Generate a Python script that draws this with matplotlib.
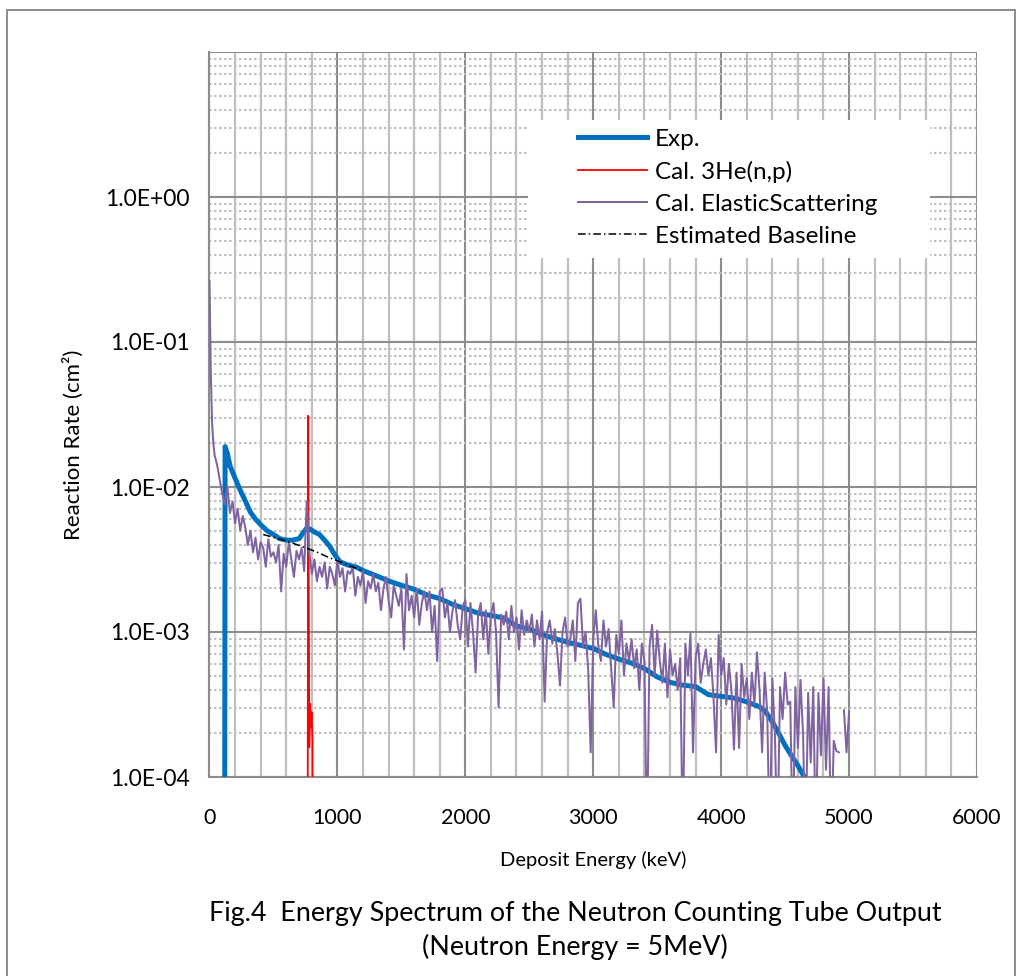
import numpy as np
import matplotlib
matplotlib.use('Agg')
import matplotlib.pyplot as plt
from matplotlib.patches import Rectangle
from matplotlib.ticker import FixedLocator, FuncFormatter, MultipleLocator

plt.rcParams['font.family'] = ['Lato', 'DejaVu Sans']

# --- data ---
# Exp. (measured)
exp_x = [118, 122, 130, 140, 160, 200, 240, 280, 320, 360, 400, 450, 500, 550,
         600, 650, 700, 730, 760, 790, 820, 860, 900, 940, 980, 1020, 1080,
         1150, 1200, 1300, 1400, 1500, 1600, 1700, 1800, 1900, 2000, 2100,
         2200, 2300, 2400, 2500, 2600, 2700, 2800, 2900, 3000, 3100, 3200,
         3300, 3400, 3500, 3600, 3700, 3800, 3900, 4000, 4100, 4200, 4300,
         4350, 4400, 4450, 4500, 4550, 4600, 4650, 4700, 4750]
exp_y = [1e-5, 1.9e-2, 1.8e-2, 1.7e-2, 1.4e-2, 1.15e-2, 9.5e-3, 8.0e-3, 6.7e-3,
         6.0e-3, 5.5e-3, 5.0e-3, 4.7e-3, 4.4e-3, 4.3e-3, 4.3e-3, 4.4e-3,
         4.8e-3, 5.2e-3, 5.1e-3, 4.9e-3, 4.7e-3, 4.3e-3, 3.9e-3, 3.4e-3,
         3.05e-3, 2.9e-3, 2.8e-3, 2.65e-3, 2.45e-3, 2.25e-3, 2.1e-3, 1.97e-3,
         1.8e-3, 1.7e-3, 1.55e-3, 1.45e-3, 1.35e-3, 1.3e-3, 1.25e-3, 1.1e-3,
         1.05e-3, 9.6e-4, 9.0e-4, 8.5e-4, 8.1e-4, 7.7e-4, 7.0e-4, 6.5e-4,
         6.1e-4, 5.6e-4, 4.9e-4, 4.5e-4, 4.3e-4, 4.2e-4, 3.7e-4, 3.6e-4,
         3.5e-4, 3.3e-4, 3.05e-4, 2.8e-4, 2.4e-4, 2.0e-4, 1.65e-4, 1.4e-4,
         1.2e-4, 1.0e-4, 8.5e-5, 7e-5]

# Cal. 3He(n,p)
he_x = [755, 765, 772, 780, 786, 792, 798, 805, 812]
he_y = [1e-6, 1e-6, 3.1e-2, 1.6e-4, 3.2e-4, 2.2e-4, 2.8e-4, 1.8e-4, 1e-6]

# Cal. ElasticScattering, log10 of the rate
el_x = [0, 10, 20, 30, 40, 60, 80] + list(range(100, 5001, 20))
el_log = [
    -0.58, -1.2, -1.55, -1.7, -1.78, -1.85, -1.95,
    -2.05, -2.12, -2.0, -2.18, -2.1, -2.25, -2.15, -2.3, -2.2, -2.28,      # 100-280
    -2.4, -2.3, -2.45, -2.35, -2.5, -2.38, -2.42, -2.55, -2.36, -2.48,     # 300-480
    -2.45, -2.52, -2.4, -2.72, -2.46, -2.55, -2.38, -2.5, -2.62, -2.44,    # 500-680
    -2.5, -2.42, -2.58, -2.1, -2.45, -2.6, -2.5, -2.65, -2.55, -2.62,      # 700-880
    -2.52, -2.7, -2.55, -2.6, -2.68, -2.5, -2.62, -2.56, -2.72, -2.58,     # 900-1080
    -2.6, -2.55, -2.75, -2.62, -2.68, -2.58, -2.8, -2.65, -2.7, -2.6,      # 1100-1280
    -2.72, -2.66, -2.85, -2.7, -2.62, -2.78, -2.9, -2.68, -2.75, -2.82,    # 1300-1480
    -2.7, -3.12, -2.6, -2.85, -2.75, -2.9, -2.7, -2.95, -2.8, -2.72,       # 1500-1680
    -2.85, -2.72, -3.0, -2.82, -3.2, -2.72, -2.7, -2.9, -2.8, -3.0,        # 1700-1880
    -2.85, -2.78, -2.95, -3.05, -2.82, -2.78, -3.1, -2.8, -3.0, -3.28,     # 1900-2080
    -2.88, -2.8, -3.05, -2.85, -3.15, -2.88, -2.8, -3.0, -3.52, -2.88,     # 2100-2280
    -2.95, -2.86, -3.05, -2.82, -3.0, -2.9, -3.12, -2.85, -3.02, -2.92,    # 2300-2480
    -3.0, -2.88, -3.1, -2.92, -3.05, -2.86, -3.48, -3.0, -2.92, -3.08,     # 2500-2680
    -2.98, -3.15, -3.37, -3.0, -2.9, -3.1, -3.05, -2.92, -3.2, -2.8,       # 2700-2880
    -2.77, -3.1, -3.0, -3.25, -3.83, -3.05, -2.85, -3.1, -3.2, -2.92,      # 2900-3080
    -3.1, -2.98, -3.25, -3.52, -3.02, -3.15, -2.92, -3.3, -3.08, -3.2,     # 3100-3280
    -3.05, -3.25, -3.12, -3.4, -3.08, -3.2, -4.5, -3.1, -2.95, -3.3,       # 3300-3480
    -2.99, -3.2, -3.35, -3.08, -3.45, -3.12, -3.3, -3.22, -3.4, -3.18,     # 3500-3680
    -4.5, -3.08, -3.3, -3.01, -3.83, -3.18, -3.08, -3.35, -3.22, -3.12,    # 3700-3880
    -3.3, -3.18, -3.45, -3.83, -3.02, -3.3, -3.18, -3.5, -3.22, -3.4,      # 3900-4080
    -3.81, -3.28, -3.8, -3.22, -3.45, -3.32, -3.6, -3.28, -3.5, -3.14,     # 4100-4280
    -3.4, -3.83, -3.28, -3.55, -4.5, -3.32, -3.7, -4.5, -3.38, -3.6,       # 4300-4480
    -3.28, -3.5, -3.48, -4.5, -3.38, -3.8, -3.33, -3.7, -4.5, -3.42,       # 4500-4680
    -3.9, -3.38, -4.5, -3.42, -3.85, -3.32, -3.95, -3.38, -4.5, -3.75,     # 4700-4880
    -3.82, -3.83, np.nan, -3.54, -3.83, -3.55,                             # 4900-5000
]
el_y = 10 ** np.array(el_log)

# Estimated Baseline
base_x = [420, 500, 580, 650, 720, 790, 860, 920, 1000, 1080, 1150, 1200]
base_y = [4.7e-3, 4.5e-3, 4.3e-3, 4.1e-3, 3.9e-3, 3.7e-3, 3.5e-3, 3.3e-3,
          3.1e-3, 2.9e-3, 2.75e-3, 2.65e-3]

W, H = 1020, 976
fig = plt.figure(figsize=(W / 100, H / 100), dpi=100)
ax = fig.add_axes([209.5 / W, 1 - 777 / H, 767.5 / W, 725 / H])

ax.plot(exp_x, exp_y, color='#0070C0', lw=3.6, label='Exp.', zorder=3)
ax.plot(he_x, he_y, color='#FF0000', lw=1.3, label='Cal. 3He(n,p)', zorder=3)
ax.plot(el_x, el_y, color='#8064A2', lw=1.45, label='Cal. ElasticScattering', zorder=3)
ax.plot(base_x, base_y, color='black', lw=1.1, ls=(0, (5, 2, 1, 2)),
        label='Estimated Baseline', zorder=4)

ax.set_yscale('log')
ax.set_xlim(0, 6000)
ax.set_ylim(1e-4, 10)

ax.xaxis.set_major_locator(MultipleLocator(1000))
ax.xaxis.set_minor_locator(MultipleLocator(200))
ax.yaxis.set_major_locator(FixedLocator([1e-4, 1e-3, 1e-2, 1e-1, 1e0, 1e1]))
minors = [m * 10.0 ** e for e in range(-4, 1) for m in range(2, 10)]
ax.yaxis.set_minor_locator(FixedLocator(minors))
ax.yaxis.set_major_formatter(FuncFormatter(lambda v, p: '' if v > 2 else f'{v:.1E}'))
ax.yaxis.set_minor_formatter(FuncFormatter(lambda v, p: ''))

ax.grid(True, which='major', axis='both', color='#8C8C8C', lw=1.5, zorder=0)
ax.grid(True, which='minor', axis='x', color='#BFBFBF', lw=1.6, zorder=0)
ax.grid(True, which='minor', axis='y', color='#BFBFBF', lw=1.5,
        ls=(0, (1.2, 1.2)), zorder=0)
ax.set_axisbelow(True)

for s in ['top', 'right']:
    ax.spines[s].set_visible(False)
for s in ['left', 'bottom']:
    ax.spines[s].set_color('#8C8C8C')
    ax.spines[s].set_linewidth(1.5)

ax.tick_params(axis='both', which='both', length=0)
ax.tick_params(axis='x', labelsize=15.5, pad=22)
ax.tick_params(axis='y', labelsize=16.5, pad=14)

# white box behind the legend
ax.add_patch(Rectangle((0.415, 0.716), 0.524, 0.19, transform=ax.transAxes,
                       facecolor='white', edgecolor='none', zorder=2))
leg = ax.legend(loc='upper left', bbox_to_anchor=(0.48, 0.894), frameon=False,
                fontsize=17.5, handlelength=2.85, handletextpad=0.33,
                labelspacing=0.45, borderpad=0, borderaxespad=0)
leg.set_zorder(5)

fig.text(73 / W, 1 - 445 / H, 'Reaction Rate (cm²)', rotation=90,
         ha='center', va='center', fontsize=16)
fig.text(593 / W, 1 - 860 / H, 'Deposit Energy (keV)', ha='center',
         va='center', fontsize=14.5)
fig.text(575 / W, 1 - 913 / H,
         'Fig.4  Energy Spectrum of the Neutron Counting Tube Output',
         ha='center', va='center', fontsize=19.4)
fig.text(575 / W, 1 - 947 / H, '(Neutron Energy = 5MeV)', ha='center',
         va='center', fontsize=19.4)

fig.patches.append(Rectangle((7 / W, -0.02), 1008 / W, 1.02 - 10 / H,
                             transform=fig.transFigure, fill=False,
                             edgecolor='#8C8C8C', lw=1.4))

fig.savefig('out.png', dpi=100)
